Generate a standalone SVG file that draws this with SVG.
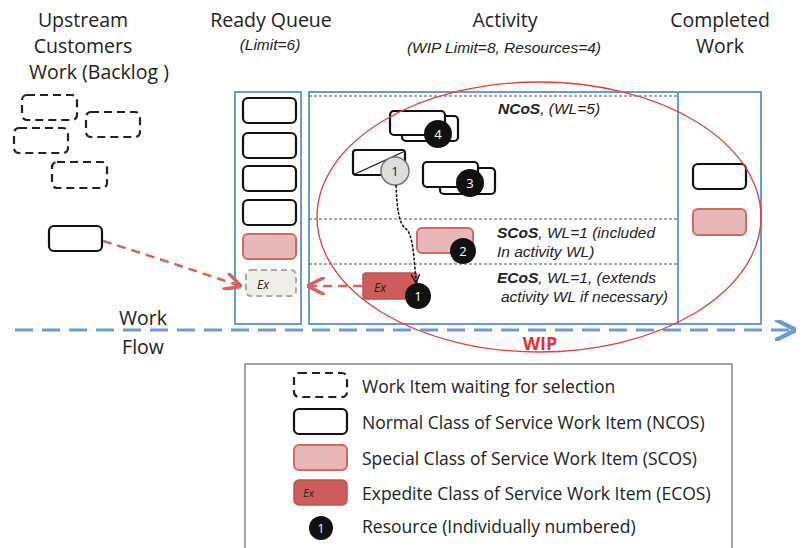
<svg xmlns="http://www.w3.org/2000/svg" width="808" height="548" viewBox="0 0 808 548">
<defs>
<style>
text{font-family:"Open Sans","Liberation Sans",sans-serif;fill:#222}
.h{font-size:19.5px;text-anchor:middle}
.sub{font-family:"Liberation Sans",sans-serif;font-size:15.5px;font-style:italic;text-anchor:middle}
.lbl{font-family:"Liberation Sans",sans-serif;font-size:15.5px;font-style:italic}
.lg{font-size:17.5px}
.col{fill:none;stroke:#6b9bd2;stroke-width:2}
.n{fill:#fff;stroke:#111;stroke-width:2.2}
.d{fill:#fff;stroke:#222;stroke-width:2.2;stroke-dasharray:8 5}
.s{fill:#e8b7b7;stroke:#cf6a6a;stroke-width:2}
.e{fill:#cd5c5c;stroke:#c25050;stroke-width:1.5}
.sep{stroke:#555;stroke-width:1.2;stroke-dasharray:3 2}
.res{fill:#111}
.rt{fill:#fff;font-size:13px;text-anchor:middle}
.ex{font-style:italic;font-size:12px}
</style>
<marker id="ar" viewBox="0 0 10 10" refX="9" refY="5" markerWidth="7" markerHeight="7" orient="auto"><path d="M0,0 L10,5 L0,10" fill="none" stroke="#d9625e" stroke-width="2"/></marker>
<marker id="ab" viewBox="0 0 10 10" refX="9" refY="5" markerWidth="7" markerHeight="7" orient="auto"><path d="M0,0 L10,5 L0,10" fill="none" stroke="#6b9bd2" stroke-width="2"/></marker>
<marker id="ak" viewBox="0 0 10 10" refX="9" refY="5" markerWidth="6" markerHeight="6" orient="auto"><path d="M0,0 L10,5 L0,10" fill="none" stroke="#111" stroke-width="1.5"/></marker>
</defs>
<rect width="808" height="548" fill="#fff"/>

<g id="headers">
<text class="h" x="83" y="27">Upstream</text>
<text class="h" x="83" y="53">Customers</text>
<text class="h" x="99" y="79">Work (Backlog )</text>
<text class="h" x="271" y="27">Ready Queue</text>
<text class="sub" x="270" y="50">(Limit=6)</text>
<text class="h" x="505" y="27">Activity</text>
<text class="sub" x="504" y="53">(WIP Limit=8, Resources=4)</text>
<text class="h" x="720" y="27">Completed</text>
<text class="h" x="720" y="53">Work</text>
</g>

<g id="backlog">
<rect class="d" x="22" y="95" width="55" height="25" rx="5"/>
<rect class="d" x="86" y="112" width="54" height="25" rx="5"/>
<rect class="d" x="14" y="128" width="54" height="25" rx="5"/>
<rect class="d" x="52" y="162" width="55" height="26" rx="5"/>
<rect class="n" x="49" y="226" width="53" height="25" rx="5"/>
</g>

<g id="ready-queue">
<rect class="col" x="235" y="92" width="66" height="232"/>
<rect class="n" x="243" y="98" width="53" height="25" rx="5"/>
<rect class="n" x="243" y="133" width="53" height="25" rx="5"/>
<rect class="n" x="243" y="166" width="53" height="25" rx="5"/>
<rect class="n" x="243" y="200" width="53" height="25" rx="5"/>
<rect class="s" x="243" y="234" width="53" height="25" rx="5"/>
<rect x="246" y="270" width="50" height="26" rx="5" fill="#efefe8" stroke="#aaa" stroke-width="2" stroke-dasharray="6 4"/>
<text class="ex" x="257" y="289">Ex</text>
</g>

<g id="activity">
<rect class="col" x="309" y="92" width="369" height="232"/>
<line class="sep" x1="309" y1="96" x2="678" y2="96"/>
<line class="sep" x1="309" y1="219" x2="678" y2="219"/>
<line class="sep" x1="309" y1="264" x2="678" y2="264"/>
<text class="lbl" x="498" y="114"><tspan font-weight="bold">NCoS</tspan>, (WL=5)</text>
<text class="lbl" x="497" y="238"><tspan font-weight="bold">SCoS</tspan>, WL=1 (included</text>
<text class="lbl" x="497" y="257">In activity WL)</text>
<text class="lbl" x="497" y="283"><tspan font-weight="bold">ECoS</tspan>, WL=1, (extends</text>
<text class="lbl" x="501" y="302">activity WL if necessary)</text>
</g>

<g id="completed">
<rect class="col" x="678" y="92" width="83" height="232"/>
<rect class="n" x="693" y="164" width="53" height="25" rx="5"/>
<rect class="s" x="693" y="209" width="53" height="26" rx="5"/>
</g>

<g id="resource-4">
<rect class="n" x="402" y="116" width="56" height="25" rx="4"/>
<rect class="n" x="390" y="111" width="55" height="24" rx="4"/>
<circle class="res" cx="438" cy="134" r="14"/>
<text class="rt" x="438" y="139">4</text>
</g>

<g id="resource-1-source">
<rect class="n" x="353" y="150" width="52" height="25" rx="3"/>
<line x1="355" y1="174" x2="403" y2="152" stroke="#111" stroke-width="1.2"/>
<circle cx="395" cy="171" r="14" fill="#ddd" stroke="#777" stroke-width="1.5"/>
<text class="rt" x="395" y="176" style="fill:#222">1</text>
</g>

<g id="resource-3">
<rect class="n" x="440" y="168" width="55" height="26" rx="4"/>
<rect class="n" x="423" y="162" width="55" height="25" rx="4"/>
<circle class="res" cx="470" cy="183" r="14"/>
<text class="rt" x="470" y="188">3</text>
</g>

<g id="resource-2">
<rect class="s" x="417" y="228" width="56" height="25" rx="5"/>
<circle class="res" cx="463" cy="251" r="13"/>
<text class="rt" x="463" y="256">2</text>
</g>

<g id="resource-1-expedite">
<rect class="e" x="363" y="273" width="54" height="26" rx="3"/>
<text class="ex" x="374" y="292">Ex</text>
<circle class="res" cx="418" cy="296" r="13"/>
<text class="rt" x="418" y="301">1</text>
</g>

<ellipse id="wip" cx="539" cy="217" rx="222" ry="135" fill="none" stroke="#e0403c" stroke-width="1.3"/>
<text x="540" y="350" style="fill:#e8302c;font-weight:bold;font-size:18px;text-anchor:middle">WIP</text>

<g id="connectors">
<path d="M103,241 Q170,262 240,286" fill="none" stroke="#d9625e" stroke-width="2.5" stroke-dasharray="9 6" marker-end="url(#ar)"/>
<path d="M362,286 L309,286" fill="none" stroke="#d9625e" stroke-width="2.5" stroke-dasharray="9 6" marker-end="url(#ar)"/>
<path d="M396,185 C397,205 398,222 405,228 C411,233 413,240 416,282" fill="none" stroke="#111" stroke-width="1.5" stroke-dasharray="3 1.5" marker-end="url(#ak)"/>
<path d="M15,330 L794,330" fill="none" stroke="#6b9bd2" stroke-width="3" stroke-dasharray="18 9" marker-end="url(#ab)"/>
</g>
<text class="h" x="143" y="325">Work</text>
<text class="h" x="143" y="354">Flow</text>

<g id="legend">
<rect x="245" y="364" width="487" height="190" fill="#fff" stroke="#888" stroke-width="1.5"/>
<rect class="d" x="294" y="373" width="53" height="24" rx="5"/>
<text class="lg" x="362" y="393">Work Item waiting for selection</text>
<rect class="n" x="294" y="409" width="53" height="25" rx="5"/>
<text class="lg" x="362" y="429">Normal Class of Service Work Item (NCOS)</text>
<rect class="s" x="294" y="445" width="53" height="25" rx="5"/>
<text class="lg" x="362" y="465">Special Class of Service Work Item (SCOS)</text>
<rect class="e" x="294" y="480" width="53" height="25" rx="5"/>
<text class="ex" x="303" y="497" style="font-size:11px">Ex</text>
<text class="lg" x="362" y="500">Expedite Class of Service Work Item (ECOS)</text>
<circle class="res" cx="321" cy="528" r="12"/>
<text class="rt" x="321" y="533" style="font-size:12px">1</text>
<text class="lg" x="362" y="533">Resource (Individually numbered)</text>
</g>
</svg>
